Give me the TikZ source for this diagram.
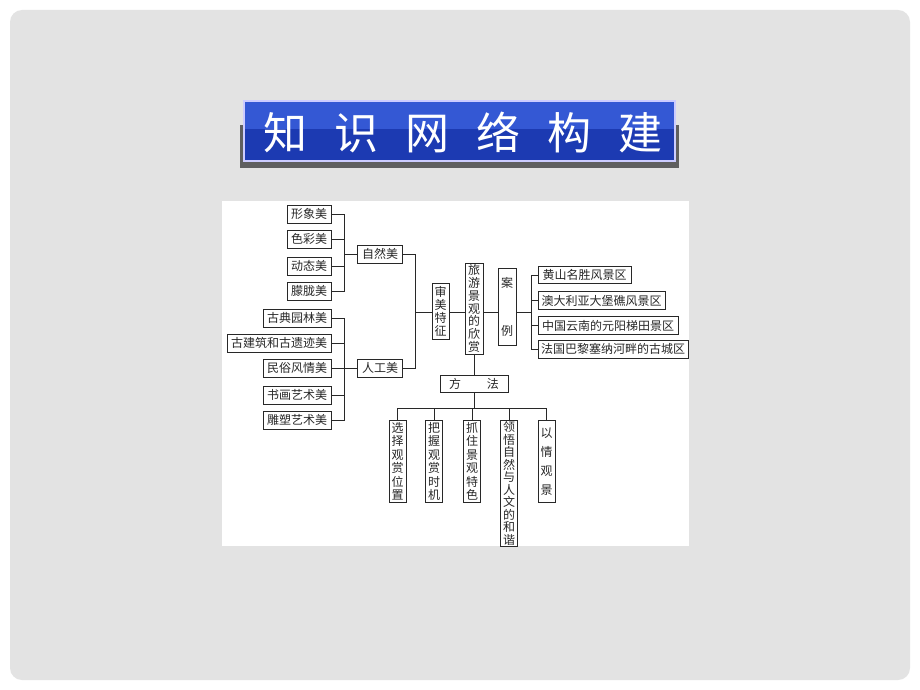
\documentclass[tikz,border=0pt]{standalone}
\usepackage{fontspec}
\newfontfamily\cjk{Noto Sans CJK SC}
\definecolor{panel}{RGB}{227,227,227}
\definecolor{bluetop}{RGB}{52,88,212}
\definecolor{bluebot}{RGB}{28,58,178}
\definecolor{shadowgray}{RGB}{95,95,95}
\definecolor{ink}{RGB}{40,40,40}
\tikzset{
  hbox/.style={draw=ink, line width=1pt, fill=white, inner sep=0pt, minimum height=18pt,
    font=\cjk\fontsize{12}{13}\selectfont, text=ink},
  vbox/.style={draw=ink, line width=1pt, fill=white, inner sep=0pt, minimum width=17pt,
    align=center, text=ink},
  conn/.style={draw=ink, line width=0.8pt},
}
\newcommand{\vfont}[1]{\cjk\fontsize{12}{#1}\selectfont}
\begin{document}
\begin{tikzpicture}[x=1pt,y=-1pt]
\useasboundingbox (0,0) rectangle (920,690);
\fill[white] (0,0) rectangle (920,690);
\fill[panel, rounded corners=12pt] (10,10) rectangle (910,680);
% title banner
\fill[shadowgray] (240,125) rectangle (679,168);
\fill[bluebot] (244,101) rectangle (675,161);
\fill[bluetop] (244,101) rectangle (675,129);
\draw[white!80!blue, line width=1.2pt] (244,101) rectangle (675,161);
\node[text=white, font=\cjk\fontsize{44}{44}\selectfont, inner sep=0pt] (title) at (463,133)
  {知\hspace{27pt}识\hspace{27pt}网\hspace{27pt}络\hspace{27pt}构\hspace{27pt}建};
% diagram area
\fill[white] (222,201) rectangle (689,546);

% natural beauty
\node[hbox, minimum width=44pt] (a1) at (309,214) {形象美};
\node[hbox, minimum width=44pt] (a2) at (309,239) {色彩美};
\node[hbox, minimum width=44pt] (a3) at (309,266) {动态美};
\node[hbox, minimum width=44pt] (a4) at (309,291) {朦胧美};
\node[hbox, minimum width=45pt] (n1) at (380,254) {自然美};
% artificial beauty
\node[hbox, minimum width=68pt] (b1) at (297,318) {古典园林美};
\node[hbox, minimum width=104pt] (b2) at (279,343) {古建筑和古遗迹美};
\node[hbox, minimum width=68pt] (b3) at (297,368) {民俗风情美};
\node[hbox, minimum width=68pt] (b4) at (297,395) {书画艺术美};
\node[hbox, minimum width=68pt] (b5) at (297,420) {雕塑艺术美};
\node[hbox, minimum width=45pt] (n2) at (380,368) {人工美};
% center column
\node[vbox, minimum height=56pt, font=\vfont{13}] (s) at (440.5,311) {审\\美\\特\\征};
\node[vbox, minimum width=18pt, minimum height=91pt, font=\vfont{12.9}] (m) at (474,308.5) {旅\\游\\景\\观\\的\\欣\\赏};
\node[vbox, minimum width=18pt, minimum height=77pt, font=\vfont{48}] (c) at (507,306.5) {案\\例};
% cases
\node[hbox, minimum width=93pt, minimum height=17pt] (r1) at (584.5,275) {黄山名胜风景区};
\node[hbox, minimum width=127pt] (r2) at (601.5,300.5) {澳大利亚大堡礁风景区};
\node[hbox, minimum width=140pt] (r3) at (608,325.5) {中国云南的元阳梯田景区};
\node[hbox, minimum width=150pt] (r4) at (613,349) {法国巴黎塞纳河畔的古城区};
% methods
\node[hbox, minimum width=68pt, minimum height=17pt] (f) at (474,383.5) {方\hspace{26pt}法};
\node[vbox, minimum height=82pt, font=\vfont{13.5}, anchor=north] (d1) at (397.5,420) {选\\择\\观\\赏\\位\\置};
\node[vbox, minimum height=82pt, font=\vfont{13.5}, anchor=north] (d2) at (434,420) {把\\握\\观\\赏\\时\\机};
\node[vbox, minimum height=82pt, font=\vfont{13.5}, anchor=north] (d3) at (472,420) {抓\\住\\景\\观\\特\\色};
\node[vbox, minimum height=126pt, font=\vfont{12.5}, anchor=north] (d4) at (509,420) {领\\悟\\自\\然\\与\\人\\文\\的\\和\\谐};
\node[vbox, minimum height=82pt, font=\vfont{19}, anchor=north] (d5) at (546.5,420) {以\\情\\观\\景};

% connectors: natural beauty
\coordinate (ja) at (344,254);
\draw[conn] (a1.east) -| (ja);
\draw[conn] (a2.east) -| (ja);
\draw[conn] (a3.east) -| (ja);
\draw[conn] (a4.east) -| (ja);
\draw[conn] (ja) -- (n1.west);
% artificial beauty
\coordinate (jb) at (344,368);
\draw[conn] (b1.east) -| (jb);
\draw[conn] (b2.east) -| (jb);
\draw[conn] (b3.east) -- (n2.west);
\draw[conn] (b4.east) -| (jb);
\draw[conn] (b5.east) -| (jb);
% to aesthetic features
\coordinate (js) at (415,312);
\draw[conn] (n1.east) -| (js);
\draw[conn] (n2.east) -| (js);
\draw[conn] (js) -- (s.west |- js);
\draw[conn] (s.east |- js) -- (m.west |- js);
\draw[conn] (m.east |- js) -- (c.west |- js);
% cases
\coordinate (jc) at (531,312);
\draw[conn] (c.east |- jc) -- (jc);
\draw[conn] (r1.west) -| (jc);
\draw[conn] (r2.west) -| (jc);
\draw[conn] (r3.west) -| (jc);
\draw[conn] (r4.west) -| (jc);
% methods
\draw[conn] (m.south) -- (f.north);
\coordinate (jf) at (474,408);
\draw[conn] (f.south) -- (jf);
\draw[conn] (d1.north) |- (jf);
\draw[conn] (d2.north) |- (jf);
\draw[conn] (d3.north) |- (jf);
\draw[conn] (d4.north) |- (jf);
\draw[conn] (d5.north) |- (jf);
\end{tikzpicture}
\end{document}
